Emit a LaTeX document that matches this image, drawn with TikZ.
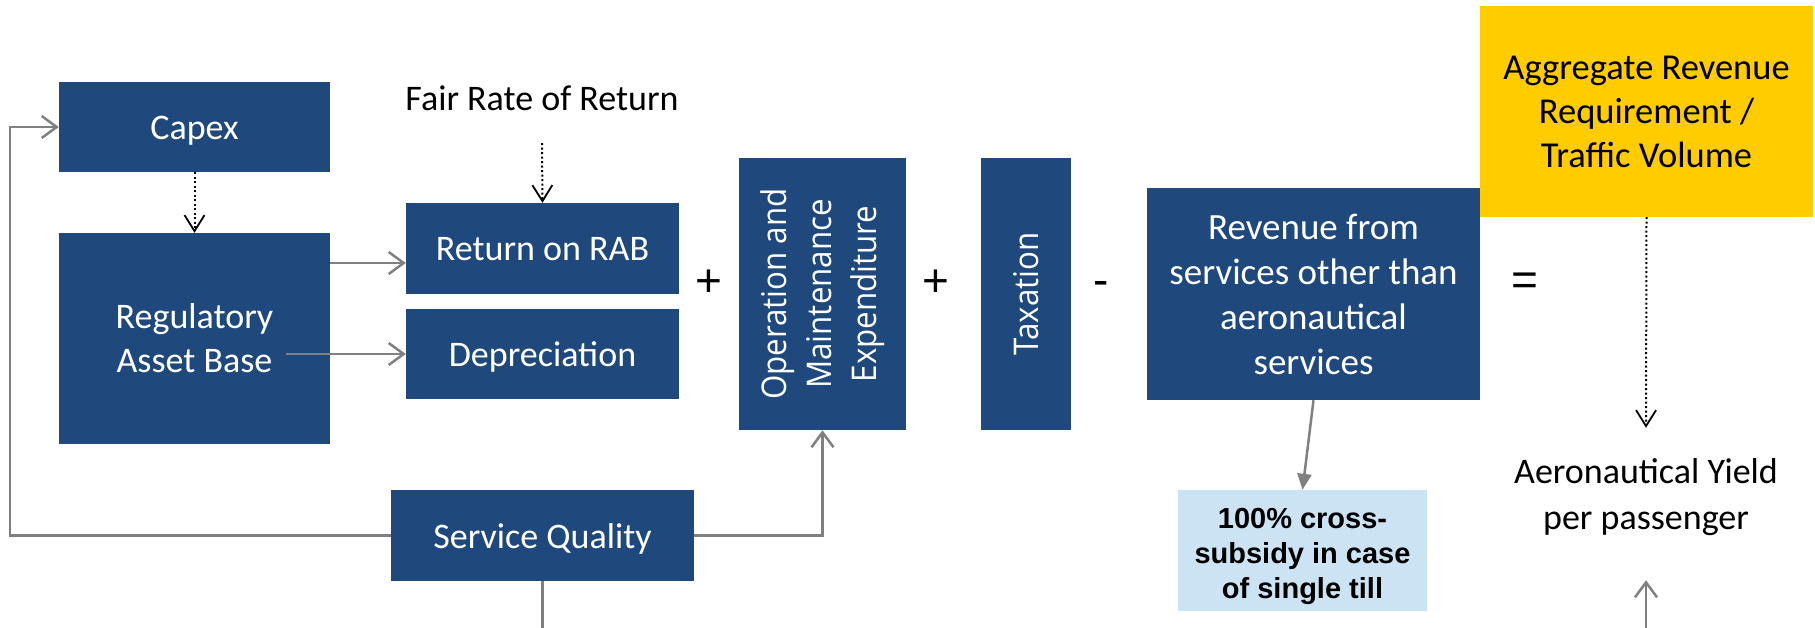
\documentclass[tikz,border=0pt]{standalone}
\usepackage{fontspec}
\usepackage{graphicx}
\setmainfont{Carlito}
\newfontfamily\osans[FakeStretch=0.92]{Open Sans}
\newfontfamily\lsans{Liberation Sans}
\usetikzlibrary{arrows.meta}

\definecolor{navy}{RGB}{31,73,125}
\definecolor{gold}{RGB}{255,204,0}
\definecolor{paleblue}{RGB}{204,227,243}
\definecolor{linegray}{RGB}{128,128,128}

\tikzset{
  navybox/.style={fill=navy, text=white, inner sep=0pt, align=center,
    font=\fontsize{36}{44}\selectfont},
  oneline/.style={text height=32pt, text depth=7pt},
  plaintext/.style={inner sep=0pt, align=center, text=black,
    font=\fontsize{36}{46}\selectfont},
  graylink/.style={draw=linegray, line width=2.5pt},
  grayarrow/.style={graylink, -{Straight Barb[length=15pt,width=22pt,line width=2.5pt]}},
  grayfill/.style={graylink, -{Triangle[length=16pt,width=14pt]}},
  dotarrow/.style={draw=black, line width=2pt, dash pattern=on 2pt off 2.5pt,
    -{Straight Barb[length=16pt,width=20pt,line width=1.8pt]}},
  opsign/.style={inner sep=0pt, anchor=base, font=\lsans\fontsize{46}{46}\selectfont}
}

\begin{document}
\begin{tikzpicture}[x=1pt,y=-1pt]
\useasboundingbox (0,0) rectangle (1815,628);

% capital side
\node[navybox, oneline, minimum width=271pt, minimum height=90pt] (capex) at (194.5,127) {Capex};
\node[navybox, minimum width=271pt, minimum height=211pt] (rab) at (194.5,338.5) {Regulatory\\Asset Base};
\node[plaintext, minimum height=90pt] (fair) at (542,98) {Fair Rate of Return};
\node[navybox, oneline, minimum width=273pt, minimum height=91pt] (ret) at (542.5,248.5) {Return on RAB};
\node[navybox, oneline, minimum width=273pt, minimum height=90pt] (dep) at (542.5,354) {Depreciation};

% operating items
\node[navybox, minimum width=167pt, minimum height=272pt] (om) at (822.5,294)
  {\rotatebox{90}{\osans\fontsize{34}{45}\selectfont
   \begin{tabular}{@{}c@{}}Operation and\\Maintenance\\Expenditure\end{tabular}}};
\node[navybox, minimum width=90pt, minimum height=272pt] (tax) at (1026,294)
  {\rotatebox{90}{\osans\fontsize{34}{40}\selectfont Taxation}};
\node[navybox, minimum width=333pt, minimum height=212pt, font=\fontsize{37}{45}\selectfont] (rev) at (1313.5,294)
  {Revenue from\\services other than\\aeronautical\\services};

% result side
\node[plaintext, fill=gold, minimum width=333pt, minimum height=211pt, font=\fontsize{36.5}{44}\selectfont] (arr) at (1646.5,111.5)
  {Aggregate Revenue\\Requirement /\\Traffic Volume};
\node[plaintext, minimum height=138pt] (yield) at (1646,497) {Aeronautical Yield\\per passenger};
\node[inner sep=0pt, fill=paleblue, minimum width=249pt, minimum height=121pt,
  font=\lsans\bfseries\fontsize{29}{35}\selectfont] (cross) at (1302.5,550.5)
  {\raisebox{-5.5pt}[\height][\depth]{\begin{tabular}{@{}c@{}}100\% cross-\\subsidy in case\\of single till\end{tabular}}};

\node[navybox, oneline, minimum width=303pt, minimum height=91pt] (sq) at (542.5,535.5) {Service Quality};

% operators
\node[opsign] (plusa) at (708.5,297) {+};
\node[opsign] (plusb) at (936,297) {+};
\node[opsign] (minus) at (1101.5,296) {-};
\node[opsign] (equals) at (1525,296) {=};

% connectors
\coordinate (rabtail) at (286,354);
\coordinate (retin) at ([yshift=-14.5pt]ret.west);
\draw[dotarrow] (capex.south) -- (rab.north);
\draw[dotarrow] (fair.south) -- (ret.north);
\draw[grayarrow] (rab.east |- retin) -- (retin);
\draw[grayarrow] (rabtail) -- (dep.west);
\draw[grayarrow] (sq.west) -- (sq.west -| 10,0) |- (capex.west);
\draw[grayarrow] (sq.east) -| (om.south);
\draw[graylink] (sq.south) -- (sq.south |- 0,628);
\draw[grayfill] (rev.south) -- (cross.north);
\draw[dotarrow] (arr.south) -- (yield.north);
\draw[grayarrow, shorten >=14pt] (yield.south |- 0,628) -- (yield.south);
\end{tikzpicture}
\end{document}
